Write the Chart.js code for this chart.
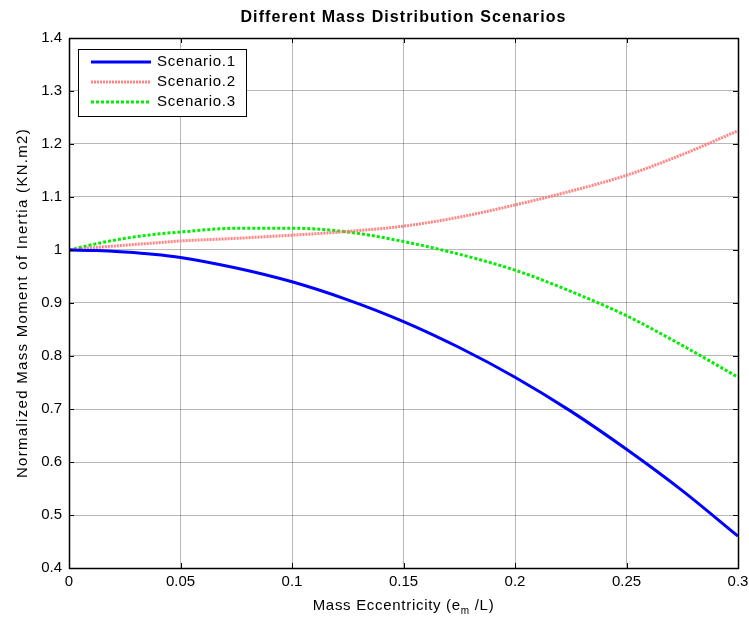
<!DOCTYPE html>
<html>
<head>
<meta charset="utf-8">
<script src="https://cdn.jsdelivr.net/npm/chart.js@4.4.1/dist/chart.umd.min.js"></script>
<style>
html,body{margin:0;padding:0;background:#fff;}
#wrap{width:749px;height:618px;}
</style>
</head>
<body>
<div id="wrap"><canvas id="c" width="749" height="618"></canvas></div>
<script>
// ---- data ----
const eccentricity = [0, 0.0125, 0.025, 0.0375, 0.05, 0.075, 0.1, 0.125, 0.15, 0.175, 0.2, 0.225, 0.25, 0.275, 0.3];
const scenario1 = [1.000, 0.999, 0.996, 0.992, 0.986, 0.966, 0.940, 0.906, 0.865, 0.816, 0.760, 0.696, 0.624, 0.546, 0.460];
const scenario2 = [1.000, 1.005, 1.009, 1.013, 1.017, 1.022, 1.028, 1.035, 1.045, 1.062, 1.085, 1.111, 1.141, 1.180, 1.225];
const scenario3 = [1.000, 1.012, 1.022, 1.029, 1.034, 1.041, 1.041, 1.034, 1.016, 0.992, 0.962, 0.922, 0.876, 0.820, 0.760];
const seriesNames = ['Scenario.1', 'Scenario.2', 'Scenario.3'];
const xTicks = [0, 0.05, 0.1, 0.15, 0.2, 0.25, 0.3];
const yTicks = [0.4, 0.5, 0.6, 0.7, 0.8, 0.9, 1, 1.1, 1.2, 1.3, 1.4];
const titleText = 'Different Mass Distribution Scenarios';
const xTitleParts = ['Mass Eccentricity (e', 'm', ' /L)'];
const yTitle = 'Normalized Mass Moment of Inertia (KN.m2)';

const FONT = 'Arial, "Liberation Sans", Helvetica, sans-serif';
const toXY = (ys) => eccentricity.map((x, i) => ({x: x, y: ys[i]}));

function setSpacing(ctx, v) { if ('letterSpacing' in ctx) ctx.letterSpacing = v; }

const boxPlugin = {
  id: 'boxPlugin',
  afterDatasetsDraw(chart) {
    const {ctx, chartArea: a, scales} = chart;
    ctx.save();
    ctx.strokeStyle = '#000';
    ctx.lineWidth = 1;
    ctx.setLineDash([]);
    ctx.beginPath();
    xTicks.forEach(v => {
      const px = Math.round(scales.x.getPixelForValue(v)) + 0.5;
      ctx.moveTo(px, a.bottom); ctx.lineTo(px, a.bottom - 5);
      ctx.moveTo(px, a.top); ctx.lineTo(px, a.top + 5);
    });
    yTicks.forEach(v => {
      const py = Math.round(scales.y.getPixelForValue(v)) + 0.5;
      ctx.moveTo(a.left, py); ctx.lineTo(a.left + 5, py);
      ctx.moveTo(a.right, py); ctx.lineTo(a.right - 5, py);
    });
    ctx.stroke();
    ctx.lineWidth = 1.5;
    ctx.strokeRect(Math.round(a.left) + 0.5, Math.round(a.top) + 0.5, Math.round(a.right - a.left), Math.round(a.bottom - a.top));

    // legend inside chart area
    const lx = a.left + 9, ly = a.top + 11, lw = 168, lh = 67;
    ctx.fillStyle = '#fff';
    ctx.fillRect(lx, ly, lw, lh);
    ctx.lineWidth = 1;
    ctx.strokeStyle = '#000';
    ctx.strokeRect(lx + 0.5, ly + 0.5, lw, lh);
    ctx.font = '15px ' + FONT;
    ctx.textBaseline = 'middle';
    ctx.textAlign = 'left';
    chart.data.datasets.forEach((ds, i) => {
      const yy = ly + 13 + i * 20;
      ctx.strokeStyle = ds.borderColor;
      ctx.lineWidth = ds.borderWidth;
      ctx.setLineDash(ds.borderDash || []);
      ctx.beginPath();
      ctx.moveTo(lx + 13, yy); ctx.lineTo(lx + 73, yy);
      ctx.stroke();
      ctx.setLineDash([]);
      ctx.fillStyle = '#000';
      setSpacing(ctx, '0.7px');
      ctx.fillText(ds.label, lx + 79, yy);
      setSpacing(ctx, '0px');
    });

    const cx = (a.left + a.right) / 2;
    const cy = (a.top + a.bottom) / 2;
    ctx.fillStyle = '#000';
    // title
    ctx.font = 'bold 16px ' + FONT;
    setSpacing(ctx, '1.1px');
    ctx.textAlign = 'center';
    ctx.textBaseline = 'middle';
    ctx.fillText(titleText, cx, 18);

    // x axis title with subscript
    ctx.textAlign = 'left';
    ctx.textBaseline = 'alphabetic';
    setSpacing(ctx, '0.7px');
    ctx.font = '15px ' + FONT;
    const w0 = ctx.measureText(xTitleParts[0]).width;
    const w2 = ctx.measureText(xTitleParts[2]).width;
    ctx.font = '10px ' + FONT;
    const w1 = ctx.measureText(xTitleParts[1]).width;
    let x0 = cx - (w0 + w1 + w2) / 2;
    const by = 610;
    ctx.font = '15px ' + FONT;
    ctx.fillText(xTitleParts[0], x0, by);
    ctx.font = '10px ' + FONT;
    ctx.fillText(xTitleParts[1], x0 + w0, by + 4);
    ctx.font = '15px ' + FONT;
    ctx.fillText(xTitleParts[2], x0 + w0 + w1, by);

    // y axis title
    ctx.save();
    ctx.translate(23, cy);
    ctx.rotate(-Math.PI / 2);
    ctx.textAlign = 'center';
    ctx.textBaseline = 'middle';
    setSpacing(ctx, '1.3px');
    ctx.font = '15px ' + FONT;
    ctx.fillText(yTitle, 0, 0);
    ctx.restore();
    setSpacing(ctx, '0px');
    ctx.restore();
  }
};

new Chart(document.getElementById('c'), {
  type: 'line',
  data: {
    datasets: [
      {label: seriesNames[0], data: toXY(scenario1), borderColor: '#0000ff', borderWidth: 3, pointRadius: 0, cubicInterpolationMode: 'monotone', fill: false},
      {label: seriesNames[1], data: toXY(scenario2), borderColor: 'rgba(255,110,110,0.85)', borderWidth: 3, borderDash: [2, 1], pointRadius: 0, cubicInterpolationMode: 'monotone', fill: false},
      {label: seriesNames[2], data: toXY(scenario3), borderColor: '#00ee00', borderWidth: 3, borderDash: [3, 2], pointRadius: 0, cubicInterpolationMode: 'monotone', fill: false}
    ]
  },
  options: {
    responsive: false,
    animation: false,
    devicePixelRatio: 1,
    layout: {padding: {left: 0, right: 11, top: 38, bottom: 0}},
    plugins: {
      legend: {display: false},
      tooltip: {enabled: false},
      title: {display: false}
    },
    scales: {
      x: {
        type: 'linear', min: 0, max: 0.3,
        afterBuildTicks: (s) => { s.ticks = xTicks.map(v => ({value: v})); },
        afterFit: (s) => { s.height = 50; s.paddingRight = 0; s.paddingLeft = 0; },
        ticks: {color: '#000', font: {family: FONT, size: 15}, padding: 5, maxRotation: 0,
          callback: (v) => String(+v.toFixed(2))},
        grid: {color: 'rgba(0,0,0,0.28)', lineWidth: 1, drawTicks: false},
        border: {display: false}
      },
      y: {
        type: 'linear', min: 0.4, max: 1.4,
        afterBuildTicks: (s) => { s.ticks = yTicks.map(v => ({value: v})); },
        afterFit: (s) => { s.width = 69; s.paddingTop = 0; s.paddingBottom = 0; },
        ticks: {color: '#000', font: {family: FONT, size: 15}, padding: 7,
          callback: (v) => String(+v.toFixed(1))},
        grid: {color: 'rgba(0,0,0,0.28)', lineWidth: 1, drawTicks: false},
        border: {display: false}
      }
    }
  },
  plugins: [boxPlugin]
});
</script>
</body>
</html>
